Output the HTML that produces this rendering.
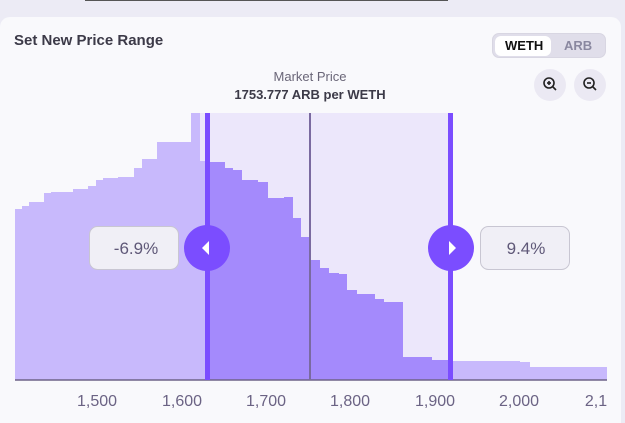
<!DOCTYPE html>
<html><head><style>
html,body{margin:0;width:625px;height:423px;overflow:hidden}
body{background:#ecebf5;font-family:"Liberation Sans",sans-serif;position:relative}
.card{position:absolute;left:0;top:17px;width:621px;height:406px;background:#f9f9fc;border-radius:10px 10px 0 0}
.t{position:absolute;white-space:nowrap}
</style></head><body>
<div style="position:absolute;left:85px;top:0;width:363px;height:1px;background:#555"></div>
<div class="card"></div>
<div class="t" style="left:14px;top:32px;font-size:15px;font-weight:bold;color:#3c3a48">Set New Price Range</div>
<div style="position:absolute;left:492px;top:33px;width:114px;height:25px;background:#e0deea;border-radius:7px;border:1px solid #d8d6e2;box-sizing:border-box"></div>
<div style="position:absolute;left:495px;top:36px;width:56px;height:20px;background:#fff;border-radius:6px"></div>
<div class="t" style="left:505px;top:38px;font-size:13px;font-weight:bold;color:#111">WETH</div>
<div class="t" style="left:564px;top:38px;font-size:13px;font-weight:bold;color:#8a88a0">ARB</div>
<div style="position:absolute;left:534px;top:69px;width:32px;height:32px;border-radius:50%;background:#ebe9f3"></div>
<div style="position:absolute;left:574px;top:69px;width:32px;height:32px;border-radius:50%;background:#ebe9f3"></div>
<svg style="position:absolute;left:0;top:0" width="625" height="423">
<g fill="none" stroke="#222" stroke-width="1.6"><circle cx="549" cy="83" r="5"/><line x1="553" y1="87" x2="556" y2="90"/><line x1="547" y1="83" x2="551" y2="83"/><line x1="549" y1="81" x2="549" y2="85"/>
<circle cx="589" cy="83" r="5"/><line x1="593" y1="87" x2="596" y2="90"/><line x1="587" y1="83" x2="591" y2="83"/></g>
<rect x="200" y="113" width="250" height="267" fill="#ece7fb"/>
<path fill="#c8b9fc" d="M15 380V209H22V206H29V202H44V193H51V192H73V189H88V186H96V180H103V178H118V177H134V168H142V159H157V142H191V113H200V161H207V380Z"/>
<path fill="#a48afc" d="M207 380V162H225V168H233V170H242V180H258V182H268V198H284V197H293V218H301V237H310V260H320V268H329V273H339V274H347V290H357V294H375V299H384V302H403V357H432V360H450V380Z"/>
<path fill="#c8b9fc" d="M450 380V361H520V362H530V367H607V380Z"/>
<line x1="15" y1="380" x2="607" y2="380" stroke="#6e6388" stroke-width="1.5"/>
<line x1="310" y1="113" x2="310" y2="380" stroke="#7a6aa0" stroke-width="2"/>
<rect x="205" y="113" width="5" height="267" fill="#7b4dff"/>
<rect x="448" y="113" width="5" height="267" fill="#7b4dff"/>
<circle cx="207" cy="248" r="23" fill="#7b4dff"/><path d="M202 248L209 241V255Z" fill="#fff"/>
<circle cx="451" cy="248" r="23" fill="#7b4dff"/><path d="M456 248L449 241V255Z" fill="#fff"/>
<rect x="89.5" y="226.5" width="89" height="43" rx="8" fill="#f0eff6" stroke="#c8c6d2"/>
<rect x="480.5" y="226.5" width="89" height="43" rx="8" fill="#f0eff6" stroke="#c8c6d2"/>
<g font-family="Liberation Sans,sans-serif" fill="#5f5878" font-size="17" text-anchor="middle">
<text x="136" y="254">-6.9%</text><text x="526" y="254">9.4%</text></g>
<g font-family="Liberation Sans,sans-serif" fill="#6b6384" font-size="16" text-anchor="middle">
<text x="97" y="406">1,500</text><text x="182" y="406">1,600</text><text x="266" y="406">1,700</text><text x="350" y="406">1,800</text><text x="435" y="406">1,900</text><text x="519" y="406">2,000</text><text x="596" y="406">2,1</text></g>
<g font-family="Liberation Sans,sans-serif" text-anchor="middle" font-size="13">
<text x="310" y="81" fill="#6a6678">Market Price</text>
<text x="310" y="99" fill="#3c3a48" font-weight="bold">1753.777 ARB per WETH</text></g>
</svg>
</body></html>
